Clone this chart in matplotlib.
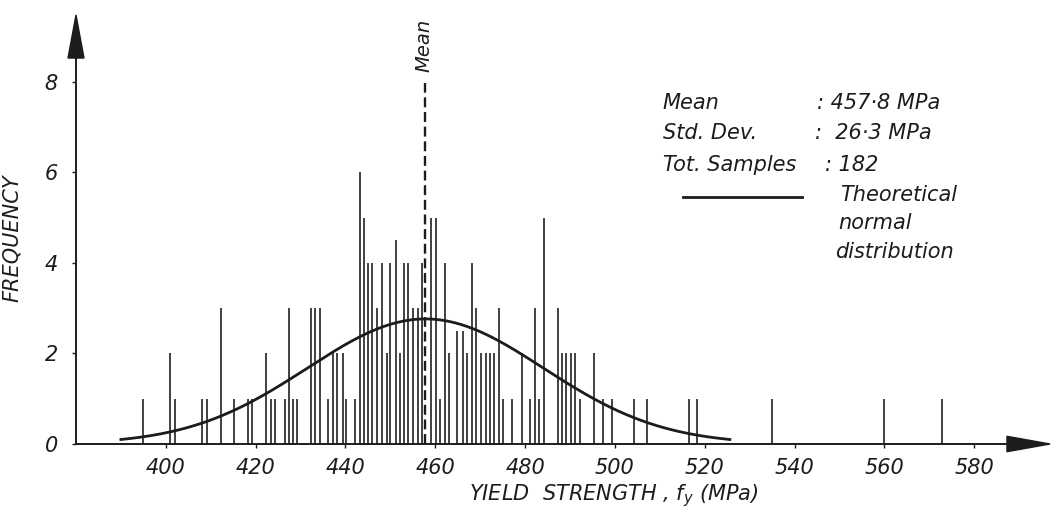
import numpy as np
import matplotlib.pyplot as plt
from matplotlib.patches import Polygon

# yield strength values (MPa) and frequency of each
strength = [395.0, 401.0, 402.0, 408.1, 409.1, 412.2, 415.1, 418.3, 419.2, 422.2,
            423.4, 424.4, 426.5, 427.4, 428.4, 429.3, 432.3, 433.3, 434.3, 436.1,
            437.3, 438.2, 439.4, 440.2, 442.1, 443.2, 444.2, 445.1, 446.0, 447.1,
            448.2, 449.2, 450.0, 451.2, 452.1, 453.0, 454.0, 455.1, 456.1, 457.1,
            459.0, 460.1, 461.1, 462.1, 463.1, 464.9, 466.1, 467.1, 468.1, 469.1,
            470.2, 471.2, 472.2, 473.1, 474.2, 475.1, 477.1, 479.3, 481.2, 482.2,
            483.2, 484.2, 487.4, 488.3, 489.2, 490.2, 491.1, 492.2, 495.3, 497.3,
            499.3, 504.2, 507.1, 516.4, 518.2, 535.0, 560.0, 572.9]
frequency = [1, 2, 1, 1, 1, 3, 1, 1, 1, 2,
             1, 1, 1, 3, 1, 1, 3, 3, 3, 1,
             2, 2, 2, 1, 1, 6, 5, 4, 4, 3,
             4, 2, 4, 4.5, 2, 4, 4, 3, 3, 4,
             5, 5, 1, 4, 2, 2.5, 2.5, 2, 4, 3,
             2, 2, 2, 2, 3, 1, 1, 2, 1, 3,
             1, 5, 3, 2, 2, 2, 2, 1, 2, 1,
             1, 1, 1, 1, 1, 1, 1, 1]

mean_fy = 457.8
std_fy = 26.3
n_samples = 182
curve_range = (390.0, 525.6)

xticks = list(range(400, 581, 20))
yticks = [0, 2, 4, 6, 8]

ink = '#1c1c1c'
bar_ink = '#333333'
plt.rcParams['font.family'] = ['DejaVu Sans']

fig = plt.figure(figsize=(10.51, 5.22), dpi=100)
# axes placed so the y axis sits at x=380 and spans to the right edge
ax = fig.add_axes([76 / 1051, 78 / 522, 975 / 1051, 444 / 522])
ax.set_xlim(380, 400 + 885 / 4.49)
ax.set_ylim(0, 444 / 45.3)
ax.patch.set_alpha(0)

# sample frequencies as thin vertical lines
ax.vlines(strength, 0, frequency, colors=bar_ink, linewidth=1.3, zorder=2)

# theoretical normal curve (1 MPa classes)
xs = np.linspace(curve_range[0], curve_range[1], 400)
pdf = np.exp(-0.5 * ((xs - mean_fy) / std_fy) ** 2) / (std_fy * np.sqrt(2 * np.pi))
ax.plot(xs, n_samples * pdf, color=ink, linewidth=2.0, zorder=3)

# mean line
ax.vlines(mean_fy, 0, 7.97, colors=ink, linewidth=1.7,
          linestyles=(0, (4.2, 2.0)), zorder=4)
ax.text(mean_fy - 0.3, 8.81, 'Mean', rotation=90, ha='center', va='center',
        fontsize=14, style='italic', color=ink)

# axes with arrow heads
for side in ['top', 'right']:
    ax.spines[side].set_visible(False)
for side in ['left', 'bottom']:
    ax.spines[side].set_color(ink)
    ax.spines[side].set_linewidth(1.4)
ax.spines['left'].set_bounds(0, 8.6)
ax.spines['bottom'].set_bounds(380, 588)
ax.add_patch(Polygon([(380 - 1.78, 8.52), (380 + 1.78, 8.52), (380, 9.47)],
                     closed=True, color=ink, clip_on=False))
ax.add_patch(Polygon([(587.3, -0.17), (587.3, 0.17), (596.9, 0)],
                     closed=True, color=ink, clip_on=False))

ax.set_xticks(xticks)
ax.set_yticks(yticks)
ax.tick_params(axis='x', direction='out', length=3, width=1, color=ink,
               labelsize=15, labelcolor=ink, pad=7)
ax.tick_params(axis='y', direction='out', length=3, width=1, color=ink,
               labelsize=15, labelcolor=ink, pad=10)
for lab in ax.get_xticklabels() + ax.get_yticklabels():
    lab.set_style('italic')

ax.set_xlabel('YIELD  STRENGTH , $\\mathit{f_y}$ (MPa)', fontsize=15,
              style='italic', color=ink, va='center')
ax.xaxis.set_label_coords((614 - 76) / 975, -(496 - 444) / 444)
ax.set_ylabel('FREQUENCY', fontsize=15, style='italic', color=ink)
ax.yaxis.set_label_coords((22 - 76) / 975, (444 - 238) / 444)

# statistics block
def px_x(px):
    return 400 + (px - 166) / 4.49


def px_y(py):
    return (444 - py) / 45.3


txt = dict(fontsize=15, style='italic', color=ink, va='center', ha='left')
ax.text(px_x(663), px_y(103), 'Mean', **txt)
ax.text(px_x(663), px_y(133), 'Std. Dev.', **txt)
ax.text(px_x(663), px_y(165), 'Tot. Samples', **txt)
ax.text(px_x(817), px_y(103), ': 457·8 MPa', **txt)
ax.text(px_x(815), px_y(133), ':  26·3 MPa', **txt)
ax.text(px_x(825), px_y(165), ': 182', **txt)
ax.plot([px_x(683), px_x(802)], [px_y(197), px_y(197)], color=ink, linewidth=2.0)
ax.text(px_x(840), px_y(195), 'Theoretical', **txt)
ax.text(px_x(838), px_y(223), 'normal', **txt)
ax.text(px_x(835), px_y(252), 'distribution', **txt)

fig.savefig('out.png', dpi=100)
